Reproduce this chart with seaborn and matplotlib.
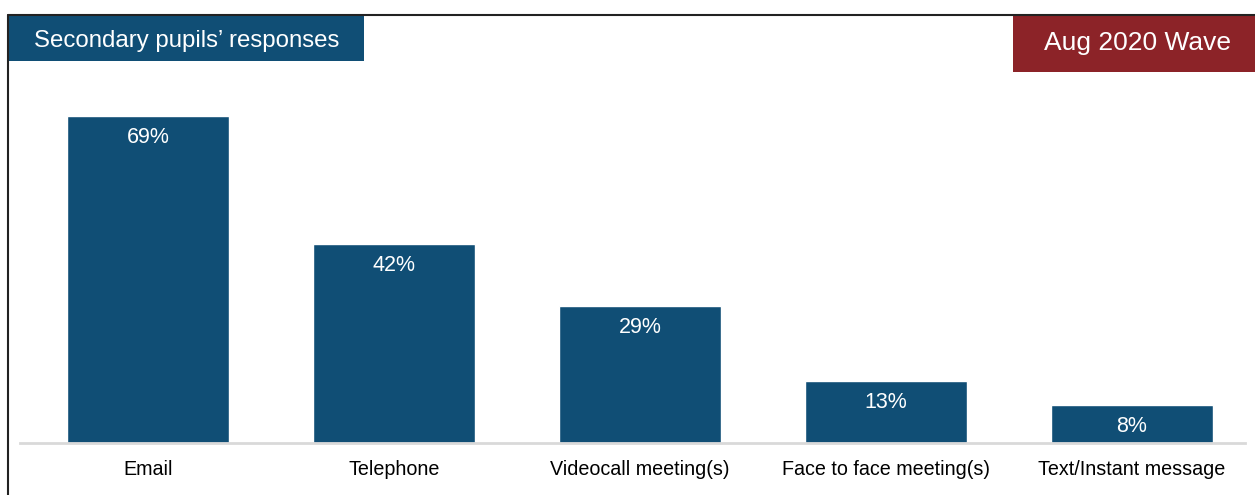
import matplotlib
matplotlib.use("Agg")
import matplotlib.pyplot as plt
import seaborn as sns
from matplotlib.patches import Rectangle
from matplotlib.lines import Line2D

categories = ["Email", "Telephone", "Videocall meeting(s)", "Face to face meeting(s)", "Text/Instant message"]
values = [69, 42, 29, 13, 8]
value_labels = ["69%", "42%", "29%", "13%", "8%"]
title_text = "Secondary pupils\u2019 responses"
wave_text = "Aug 2020 Wave"

BLUE = "#104E75"
RED = "#8C2328"

sns.set_theme(style="white")
plt.rcParams['font.family'] = ['Liberation Sans', 'DejaVu Sans']

W, H = 1255, 495
fig = plt.figure(figsize=(W / 100, H / 100), dpi=100)

ax = fig.add_axes([20 / W, 1 - 443 / H, 1225 / W, 363 / H])
sns.barplot(x=categories, y=values, color=BLUE, saturation=1, width=0.66, ax=ax)
ax.set_xlim(-0.52, 4.46)
ax.set_ylim(0, 363 / 4.74)
for s in ["top", "right", "left"]:
    ax.spines[s].set_visible(False)
ax.spines["bottom"].set_color("#D9D9D9")
ax.spines["bottom"].set_linewidth(2)
ax.set_yticks([])
ax.set_xlabel("")
ax.set_ylabel("")
ax.tick_params(axis="x", length=0, pad=12, labelsize=14.2, colors="#000000")

for i, (v, lab) in enumerate(zip(values, value_labels)):
    ax.annotate(lab, xy=(i, v), xytext=(0, -15.5), textcoords="offset points",
                ha="center", va="center", color="white", fontsize=15.5)

# frame lines
fig.add_artist(Line2D([8 / W, 8 / W], [0, 1 - 15 / H], transform=fig.transFigure, color="#222222", lw=1.5))
fig.add_artist(Line2D([8 / W, 1], [1 - 15 / H, 1 - 15 / H], transform=fig.transFigure, color="#222222", lw=1.5))

# header boxes
fig.add_artist(Rectangle((9 / W, 1 - 61 / H), (364 - 9) / W, 45 / H, transform=fig.transFigure,
                         facecolor=BLUE, edgecolor="none"))
fig.text(187 / W, 1 - 41 / H, title_text, ha="center", va="center", color="white", fontsize=17.3)

fig.add_artist(Rectangle((1013 / W, 1 - 72 / H), (W - 1013) / W, 56 / H, transform=fig.transFigure,
                         facecolor=RED, edgecolor="none"))
fig.text(1137 / W, 1 - 43 / H, wave_text, ha="center", va="center", color="white", fontsize=19)

fig.savefig("out.png", dpi=100, facecolor="white")
